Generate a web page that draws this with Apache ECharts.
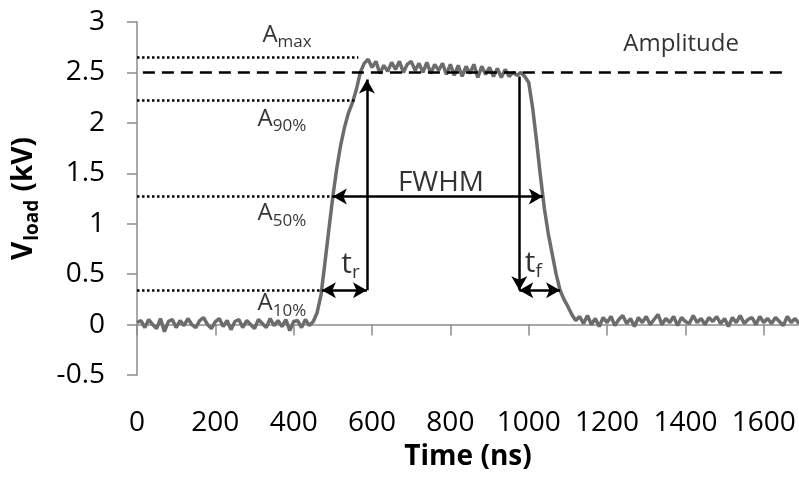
<!DOCTYPE html>
<html>
<head>
<meta charset="utf-8">
<script src="https://cdn.jsdelivr.net/npm/echarts@6/dist/echarts.min.js"></script>
<style>
  html, body { margin: 0; padding: 0; background: #fff; }
  #chart { width: 799px; height: 483px; }
</style>
</head>
<body>
<div id="chart"></div>
<script>
// waveform: time (ns) and load voltage (kV)
const timeNs = [
  0, 10, 20, 30, 40, 50, 60, 70, 80, 90, 100, 110, 120, 130, 140, 150, 160, 170, 180, 190,
  200, 210, 220, 230, 240, 250, 260, 270, 280, 290, 300, 310, 320, 330, 340, 350, 360, 370, 380, 390,
  400, 410, 420, 430, 440, 450, 460, 470, 480, 490, 500, 510, 520, 530, 540, 550, 560, 570, 580, 590,
  600, 610, 620, 630, 640, 650, 660, 670, 680, 690, 700, 710, 720, 730, 740, 750, 760, 770, 780, 790,
  800, 810, 820, 830, 840, 850, 860, 870, 880, 890, 900, 910, 920, 930, 940, 950, 960, 970, 980, 990,
  1000, 1010, 1020, 1030, 1040, 1050, 1060, 1070, 1080, 1090, 1100, 1110, 1120, 1130, 1140, 1150, 1160, 1170, 1180, 1190,
  1200, 1210, 1220, 1230, 1240, 1250, 1260, 1270, 1280, 1290, 1300, 1310, 1320, 1330, 1340, 1350, 1360, 1370, 1380, 1390,
  1400, 1410, 1420, 1430, 1440, 1450, 1460, 1470, 1480, 1490, 1500, 1510, 1520, 1530, 1540, 1550, 1560, 1570, 1580, 1590,
  1600, 1610, 1620, 1630, 1640, 1650, 1660, 1670, 1680, 1690
];
const vLoad = [
  0.02, 0.04, -0.03, 0.05, 0.00, -0.04, 0.06, -0.07, 0.03, 0.05,
  -0.03, 0.04, -0.01, 0.06, 0.00, -0.03, 0.04, 0.07, 0.00, -0.04,
  0.03, 0.06, -0.02, 0.04, -0.05, 0.03, 0.05, -0.03, 0.04, 0.00,
  -0.04, 0.05, 0.01, -0.03, 0.06, -0.01, 0.04, -0.02, 0.05, -0.06,
  0.03, 0.04, -0.03, 0.05, -0.01, 0.03, 0.12, 0.30, 0.62, 0.95,
  1.27, 1.55, 1.78, 1.96, 2.10, 2.20, 2.33, 2.50, 2.59, 2.63,
  2.55, 2.61, 2.49, 2.57, 2.51, 2.60, 2.53, 2.61, 2.50, 2.58,
  2.61, 2.52, 2.59, 2.50, 2.60, 2.49, 2.58, 2.52, 2.59, 2.48,
  2.58, 2.47, 2.57, 2.46, 2.56, 2.49, 2.58, 2.45, 2.56, 2.48,
  2.55, 2.46, 2.54, 2.45, 2.53, 2.46, 2.50, 2.47, 2.50, 2.46,
  2.40, 2.15, 1.82, 1.47, 1.15, 0.90, 0.70, 0.50, 0.34, 0.25,
  0.18, 0.10, 0.04, 0.08, 0.01, 0.09, 0.00, 0.06, -0.02, 0.07,
  0.02, 0.08, -0.01, 0.05, 0.09, 0.01, 0.06, -0.02, 0.07, 0.02,
  0.08, 0.00, 0.05, 0.10, 0.00, 0.06, 0.02, 0.08, -0.01, 0.07,
  0.03, 0.01, 0.09, 0.02, 0.06, 0.00, 0.07, 0.03, 0.08, 0.01,
  0.06, -0.02, 0.07, 0.02, 0.09, 0.01, 0.05, 0.07, 0.00, 0.08,
  0.02, 0.06, 0.01, 0.07, 0.03, -0.01, 0.08, 0.02, 0.06, 0.01
];

// reference levels (kV) and the time (ns) where each dotted guide stops
const levelValues = [2.65, 2.22, 1.27, 0.34];
const levelEnds = [565, 556, 500, 472];
const amplitude = 2.5;
const amplitudeStart = 15;
const amplitudeEnd = 1660;

// arrows: [t1, v1, t2, v2, startHead, endHead]
const arrows = [
  [500, 1.27, 1036, 1.27, 'arrow', 'arrow'],   // FWHM
  [472, 0.34, 587, 0.34, 'arrow', 'arrow'],    // t_r
  [587, 0.34, 587, 2.43, 'none', 'arrow'],     // rise up to amplitude
  [976, 2.46, 976, 0.34, 'none', 'arrow'],     // fall down from amplitude
  [976, 0.34, 1080, 0.34, 'arrow', 'arrow']    // t_f
];

// annotation texts and where they sit (data coords)
const noteTexts = ['{a|A}{s|max}', '{a|A}{s|90%}', '{a|A}{s|50%}', '{a|A}{s|10%}',
                   '{b|FWHM}', '{a|Amplitude}', '{t|t}{u|r}', '{t|t}{u|f}'];
const noteX = [383, 370, 370, 370, 776, 1389, 545, 1012];
const noteY = [2.85, 2.02, 1.08, 0.19, 1.40, 2.76, 0.58, 0.59];

const FONT = '"Open Sans", sans-serif';
const AXIS_GREY = '#8c8c8c';

const waveform = timeNs.map((t, i) => [t, vLoad[i]]);

const guideLines = levelValues.map((v, i) => [
  { coord: [0, v], symbol: 'none' },
  { coord: [levelEnds[i], v], symbol: 'none' }
]);
guideLines.push([
  { coord: [amplitudeStart, amplitude], symbol: 'none', lineStyle: { type: [12, 7], width: 2.5 } },
  { coord: [amplitudeEnd, amplitude], symbol: 'none' }
]);

const arrowLines = arrows.map(a => [
  { coord: [a[0], a[1]], symbol: a[4] },
  { coord: [a[2], a[3]], symbol: a[5] }
]);

const notes = noteTexts.map((txt, i) => [noteX[i], noteY[i], txt]);

const chart = echarts.init(document.getElementById('chart'));
chart.setOption({
  animation: false,
  backgroundColor: '#fff',
  grid: { left: 137, right: 0, top: 22, bottom: 108, outerBoundsMode: 'none' },
  xAxis: {
    type: 'value',
    min: 0,
    max: 1690,
    interval: 200,
    name: 'Time (ns)',
    nameLocation: 'middle',
    nameGap: 68,
    nameTextStyle: { fontFamily: FONT, fontWeight: 'bold', fontSize: 28, color: '#000' },
    axisLine: { onZero: true, lineStyle: { color: AXIS_GREY, width: 1.5 } },
    axisTick: { length: 11, lineStyle: { color: AXIS_GREY, width: 1.5 } },
    axisLabel: {
      margin: 34,
      fontFamily: FONT,
      fontSize: 28,
      color: '#000',
      showMaxLabel: false,
      formatter: v => (v % 200 === 0 ? String(v) : '')
    },
    splitLine: { show: false }
  },
  yAxis: {
    type: 'value',
    min: -0.5,
    max: 3,
    interval: 0.5,
    name: '{v|V}{s|load}{v| (kV)}',
    nameLocation: 'middle',
    nameRotate: 90,
    nameGap: 95,
    nameTextStyle: {
      rich: {
        v: { fontFamily: FONT, fontWeight: 'bold', fontSize: 28, color: '#000', lineHeight: 32, verticalAlign: 'top' },
        s: { fontFamily: FONT, fontWeight: 'bold', fontSize: 19, color: '#000', lineHeight: 19, padding: [17, 1, 0, 1], verticalAlign: 'bottom' }
      }
    },
    axisLine: { show: true, lineStyle: { color: AXIS_GREY, width: 1.5 } },
    axisTick: { show: true, length: 10, lineStyle: { color: AXIS_GREY, width: 1.5 } },
    axisLabel: { margin: 32, fontFamily: FONT, fontSize: 28, color: '#000' },
    splitLine: { show: false }
  },
  series: [
    {
      name: 'Vload',
      type: 'line',
      data: waveform,
      showSymbol: false,
      z: 2,
      lineStyle: { color: '#6c6c6c', width: 3.5 }
    },
    {
      name: 'guides',
      type: 'line',
      data: [],
      z: 3,
      markLine: {
        silent: true,
        animation: false,
        label: { show: false },
        lineStyle: { color: '#000', type: 'dotted', width: 2.5 },
        data: guideLines
      }
    },
    {
      name: 'arrows',
      type: 'line',
      data: [],
      z: 4,
      markLine: {
        silent: true,
        animation: false,
        label: { show: false },
        symbolSize: [12, 14],
        lineStyle: { color: '#000', type: 'solid', width: 2.5 },
        data: arrowLines
      }
    },
    {
      name: 'notes',
      type: 'scatter',
      data: notes,
      symbolSize: 0,
      z: 5,
      label: {
        show: true,
        position: 'inside',
        formatter: p => p.data[2],
        rich: {
          a: { fontFamily: FONT, fontSize: 24, color: '#000', lineHeight: 28, verticalAlign: 'top' },
          s: { fontFamily: FONT, fontSize: 17, color: '#000', lineHeight: 17, padding: [14, 0, 0, 0], verticalAlign: 'bottom' },
          b: { fontFamily: FONT, fontSize: 28, color: '#000' },
          t: { fontFamily: FONT, fontSize: 30, color: '#000', lineHeight: 33, verticalAlign: 'top' },
          u: { fontFamily: FONT, fontSize: 19, color: '#000', lineHeight: 19, padding: [18, 0, 0, 0], verticalAlign: 'bottom' }
        }
      }
    }
  ]
});
</script>
</body>
</html>
